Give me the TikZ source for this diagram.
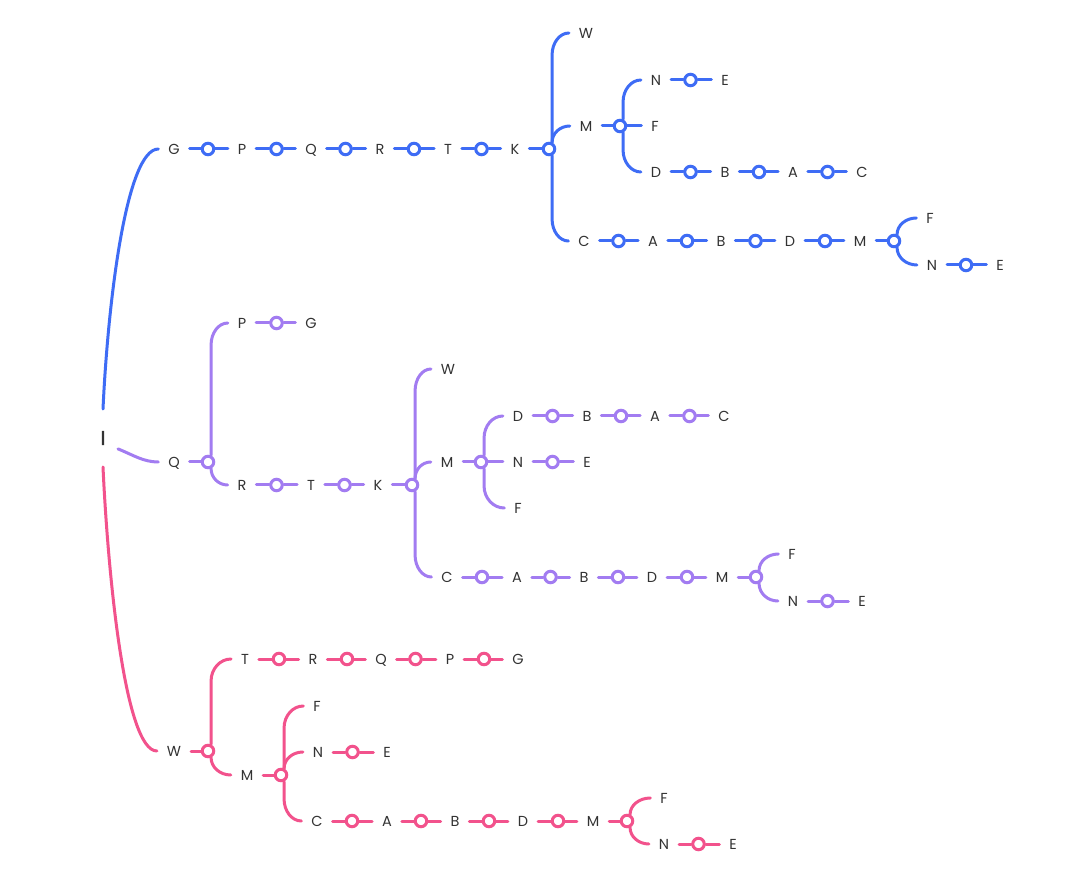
\documentclass[tikz,border=0pt]{standalone}
\usepackage{fontspec}
\newfontfamily\mapfont{Poppins}
\newfontfamily\rootfont[FakeBold=2]{Poppins}
\usetikzlibrary{calc}
\definecolor{txt}{HTML}{333333}
\definecolor{cblue}{HTML}{3E6CF5}
\definecolor{cpurple}{HTML}{A27CF1}
\definecolor{cpink}{HTML}{F2528C}

\tikzset{
  lab/.style={text=txt, font=\mapfont\fontsize{14.5}{17}\selectfont,
    inner xsep=10pt, inner ysep=2pt, text height=10.5pt, text depth=0pt, outer sep=0pt},
  rootlab/.style={text=txt, font=\rootfont\fontsize{20}{24}\selectfont,
    inner sep=0pt, outer sep=0pt, minimum width=30pt, minimum height=58pt},
  dot/.style={circle, draw, fill=white, line width=3pt, minimum size=11.5pt, inner sep=0pt},
  conn/.style={line width=3pt, line cap=round}
}

% a text node
\newcommand\mmlab[3]{\node[lab] (#1) at (#2) {#3};}
% a ring half way between two texts, joined to both
\newcommand\mmlink[3]{\node[dot] (#3) at ($(#1)!0.5!(#2)$) {};
  \draw[conn] (#1) -- (#3) -- (#2);}
% a branching ring right of a text
\newcommand\mmfork[2]{\node[dot] (#2) at ([xshift=34pt]#1.center) {};
  \draw[conn] (#1) -- (#2);}
% branches leaving a ring upwards or downwards: a vertical run ending in a
% rounded quarter bend into the child text; or straight on
\newcommand\mmup[2]{\draw[conn] let \p1=(#1.65), \p2=(#2.west),
  \n1={min(\y2-\y1,22pt)}, \n2={\x2-\x1} in
  (\p1) -- (\x1,{\y2-\n1})
  .. controls (\x1,{\y2-0.448*\n1}) and ({\x2-0.552*\n2},\y2) .. (\p2);}
\newcommand\mmdn[2]{\draw[conn] let \p1=(#1.-65), \p2=(#2.west),
  \n1={min(\y1-\y2,22pt)}, \n2={\x2-\x1} in
  (\p1) -- (\x1,{\y2+\n1})
  .. controls (\x1,{\y2+0.448*\n1}) and ({\x2-0.552*\n2},\y2) .. (\p2);}
\newcommand\mmst[2]{\draw[conn] (#1) -- (#2);}

\begin{document}
\begin{tikzpicture}[x=1pt, y=-1pt]
\fill[white] (0,0) rectangle (1072,877);
\useasboundingbox (0,0) rectangle (1072,877);

\node[rootlab] (I) at (103,438) {I};

% ---------- blue branch ----------
\begin{scope}[color=cblue]
\mmlab{bG}{174,149}{G}
\mmlab{bP}{242,149}{P}
\mmlab{bQ}{311,149}{Q}
\mmlab{bR}{380,149}{R}
\mmlab{bT}{448,149}{T}
\mmlab{bK}{515,149}{K}
\mmlink{bG}{bP}{bd1}
\mmlink{bP}{bQ}{bd2}
\mmlink{bQ}{bR}{bd3}
\mmlink{bR}{bT}{bd4}
\mmlink{bT}{bK}{bd5}
\mmfork{bK}{bKd}
\mmlab{bW}{586,33}{W}
\mmlab{bM}{586,126}{M}
\mmlab{bC}{584,241}{C}
\mmup{bKd}{bW}
\mmup{bKd}{bM}
\mmdn{bKd}{bC}
\mmfork{bM}{bMd}
\mmlab{bMN}{656,80}{N}
\mmlab{bME}{725,80}{E}
\mmlink{bMN}{bME}{bd6}
\mmlab{bMF}{655,126}{F}
\mmlab{bMD}{656,172}{D}
\mmlab{bMB}{725,172}{B}
\mmlab{bMA}{793,172}{A}
\mmlab{bMC}{862,172}{C}
\mmlink{bMD}{bMB}{bd7}
\mmlink{bMB}{bMA}{bd8}
\mmlink{bMA}{bMC}{bd9}
\mmup{bMd}{bMN}
\mmst{bMd}{bMF}
\mmdn{bMd}{bMD}
\mmlab{bCA}{653,241}{A}
\mmlab{bCB}{721,241}{B}
\mmlab{bCD}{790,241}{D}
\mmlab{bCM}{860,241}{M}
\mmlink{bC}{bCA}{bd10}
\mmlink{bCA}{bCB}{bd11}
\mmlink{bCB}{bCD}{bd12}
\mmlink{bCD}{bCM}{bd13}
\mmfork{bCM}{bCMd}
\mmlab{bCF}{930,218}{F}
\mmlab{bCN}{932,265}{N}
\mmlab{bCE}{1000,265}{E}
\mmlink{bCN}{bCE}{bd14}
\mmup{bCMd}{bCF}
\mmdn{bCMd}{bCN}
\draw[conn] (I.north) .. controls +(5,-108) and +(-32,0) .. (bG.west);
\end{scope}

% ---------- purple branch ----------
\begin{scope}[color=cpurple]
\mmlab{pQ}{174,462}{Q}
\mmfork{pQ}{pQd}
\mmlab{pP}{242,323}{P}
\mmlab{pG}{311,323}{G}
\mmlink{pP}{pG}{pd1}
\mmlab{pR}{242,485}{R}
\mmlab{pT}{311,485}{T}
\mmlab{pK}{378,485}{K}
\mmlink{pR}{pT}{pd2}
\mmlink{pT}{pK}{pd3}
\mmup{pQd}{pP}
\mmdn{pQd}{pR}
\mmfork{pK}{pKd}
\mmlab{pW}{448,369}{W}
\mmlab{pM}{447,462}{M}
\mmlab{pC}{447,577}{C}
\mmup{pKd}{pW}
\mmup{pKd}{pM}
\mmdn{pKd}{pC}
\mmfork{pM}{pMd}
\mmlab{pMD}{518,416}{D}
\mmlab{pMB}{587,416}{B}
\mmlab{pMA}{655,416}{A}
\mmlab{pMC}{724,416}{C}
\mmlink{pMD}{pMB}{pd4}
\mmlink{pMB}{pMA}{pd5}
\mmlink{pMA}{pMC}{pd6}
\mmlab{pMN}{518,462}{N}
\mmlab{pME}{587,462}{E}
\mmlink{pMN}{pME}{pd7}
\mmlab{pMF}{518,508}{F}
\mmup{pMd}{pMD}
\mmst{pMd}{pMN}
\mmdn{pMd}{pMF}
\mmlab{pCA}{517,577}{A}
\mmlab{pCB}{584,577}{B}
\mmlab{pCD}{652,577}{D}
\mmlab{pCM}{722,577}{M}
\mmlink{pC}{pCA}{pd8}
\mmlink{pCA}{pCB}{pd9}
\mmlink{pCB}{pCD}{pd10}
\mmlink{pCD}{pCM}{pd11}
\mmfork{pCM}{pCMd}
\mmlab{pCF}{792,554}{F}
\mmlab{pCN}{793,601}{N}
\mmlab{pCE}{862,601}{E}
\mmlink{pCN}{pCE}{pd12}
\mmup{pCMd}{pCF}
\mmdn{pCMd}{pCN}
\draw[conn] (I.-36) .. controls +(15,6) and +(-15,0) .. (pQ.west);
\end{scope}

% ---------- pink branch ----------
\begin{scope}[color=cpink]
\mmlab{rW}{174,751}{W}
\mmfork{rW}{rWd}
\mmlab{rT}{245,659}{T}
\mmlab{rR}{313,659}{R}
\mmlab{rQ}{381,659}{Q}
\mmlab{rP}{450,659}{P}
\mmlab{rG}{518,659}{G}
\mmlink{rT}{rR}{rd1}
\mmlink{rR}{rQ}{rd2}
\mmlink{rQ}{rP}{rd3}
\mmlink{rP}{rG}{rd4}
\mmlab{rM}{247,775}{M}
\mmup{rWd}{rT}
\mmdn{rWd}{rM}
\mmfork{rM}{rMd}
\mmlab{rMF}{317,706}{F}
\mmlab{rMN}{318,752}{N}
\mmlab{rME}{387,752}{E}
\mmlink{rMN}{rME}{rd5}
\mmlab{rMC}{317,821}{C}
\mmlab{rCA}{387,821}{A}
\mmlab{rCB}{455,821}{B}
\mmlab{rCD}{523,821}{D}
\mmlab{rCM}{593,821}{M}
\mmlink{rMC}{rCA}{rd6}
\mmlink{rCA}{rCB}{rd7}
\mmlink{rCB}{rCD}{rd8}
\mmlink{rCD}{rCM}{rd9}
\mmup{rMd}{rMF}
\mmup{rMd}{rMN}
\mmdn{rMd}{rMC}
\mmfork{rCM}{rCMd}
\mmlab{rCF}{664,798}{F}
\mmlab{rCN}{664,844}{N}
\mmlab{rCE}{733,844}{E}
\mmlink{rCN}{rCE}{rd10}
\mmup{rCMd}{rCF}
\mmdn{rCMd}{rCN}
\draw[conn] (I.south) .. controls +(5,108) and +(-32,0) .. (rW.west);
\end{scope}
\end{tikzpicture}
\end{document}
